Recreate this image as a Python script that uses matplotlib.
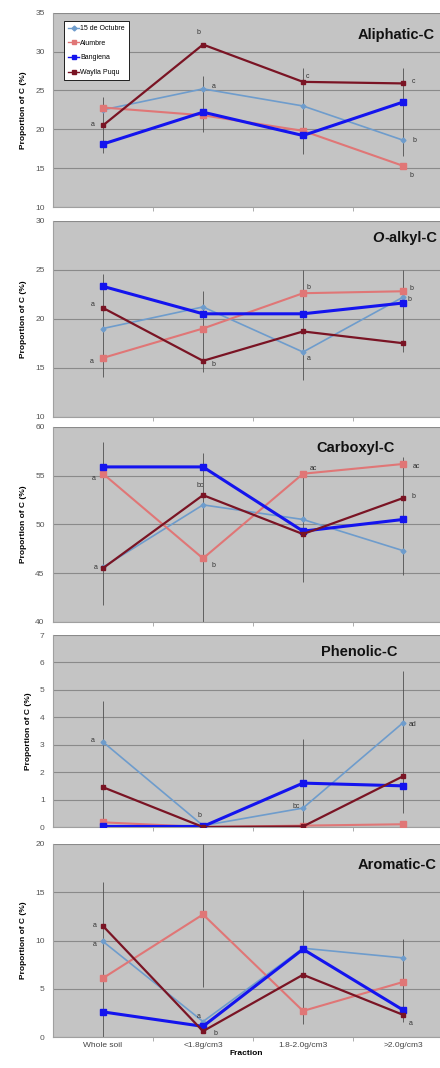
import matplotlib
matplotlib.use("Agg")
import matplotlib.pyplot as plt
import numpy as np

plt.rcParams['font.family'] = ['Liberation Sans', 'DejaVu Sans']

# categories and sites
fractions = ["Whole soil", "<1.8g/cm3", "1.8-2.0g/cm3", ">2.0g/cm3"]
sites = ["15 de Octubre", "Alumbre", "Bangiena", "Waylla Puqu"]

# values per panel, rows in the order of sites
aliphatic = [[22.5, 25.2, 23.0, 18.6],
             [22.8, 21.8, 19.8, 15.3],
             [18.1, 22.2, 19.2, 23.5],
             [20.5, 30.9, 26.1, 25.9]]
o_alkyl = [[19.0, 21.2, 16.6, 22.2],
           [16.0, 19.0, 22.6, 22.8],
           [23.3, 20.5, 20.5, 21.6],
           [21.1, 15.7, 18.7, 17.5]]
carboxyl = [[45.6, 52.0, 50.5, 47.3],
            [55.2, 46.5, 55.2, 56.2],
            [55.9, 55.9, 49.3, 50.5],
            [45.5, 53.0, 49.0, 52.7]]
phenolic = [[3.1, 0.05, 0.69, 3.8],
            [0.17, 0.0, 0.05, 0.1],
            [0.02, 0.02, 1.6, 1.5],
            [1.45, 0.0, 0.02, 1.85]]
aromatic = [[9.9, 1.6, 9.2, 8.2],
            [6.1, 12.7, 2.7, 5.7],
            [2.6, 1.1, 9.1, 2.8],
            [11.5, 0.6, 6.45, 2.3]]

# error bar extents (low, high) per fraction
aliphatic_err = [(17.0, 24.2), (19.6, 26.8), (16.8, 27.9), (16.5, 27.9)]
o_alkyl_err = [(14.1, 24.6), (14.6, 22.8), (13.7, 25.0), (16.6, 25.0)]
carboxyl_err = [(41.7, 58.5), (40.0, 57.3), (44.1, 54.9), (44.8, 56.9)]
phenolic_err = [(0.0, 4.6), (np.nan, np.nan), (0.0, 3.2), (0.5, 5.7)]
aromatic_err = [(0.0, 16.1), (5.2, 20.0), (1.3, 15.2), (1.6, 10.2)]

# significance letters (label, x, y)
aliphatic_letters = [("a", -0.1, 20.6), ("b", 0.95, 32.4), ("a", 1.11, 25.5),
                     ("c", 2.05, 26.8), ("c", 3.11, 26.2), ("b", 3.11, 18.5),
                     ("b", 3.08, 14.0)]
o_alkyl_letters = [("a", -0.1, 21.4), ("a", -0.11, 15.6), ("b", 1.1, 15.3),
                   ("b", 2.05, 23.2), ("a", 2.06, 15.9), ("b", 3.08, 23.1),
                   ("b", 3.06, 22.0)]
carboxyl_letters = [("a", -0.09, 54.7), ("a", -0.07, 45.6), ("bc", 0.97, 54.0),
                    ("b", 1.1, 45.8), ("ac", 2.1, 55.7), ("ac", 3.13, 55.9),
                    ("b", 3.1, 52.9)]
phenolic_letters = [("a", -0.1, 3.15), ("b", 0.96, 0.43), ("bc", 1.93, 0.76),
                    ("ad", 3.1, 3.75)]
aromatic_letters = [("a", -0.08, 11.6), ("a", -0.08, 9.6), ("a", 0.96, 2.1),
                    ("b", 1.12, 0.4), ("a", 3.08, 1.4)]

colors = ["#6e9ccc", "#e07676", "#1414ee", "#7a1424"]
widths = [1.2, 1.5, 2.2, 1.6]
markers = ["D", "s", "s", "s"]
msizes = [2.5, 4.5, 4, 3]

# title, values, errors, letters, y range, title position, italic prefix
panels = [("Aliphatic-C", aliphatic, aliphatic_err, aliphatic_letters, (10, 35, 5), (0.987, 0.887), ""),
          ("-alkyl-C", o_alkyl, o_alkyl_err, o_alkyl_letters, (10, 30, 5), (0.992, 0.91), "O"),
          ("Carboxyl-C", carboxyl, carboxyl_err, carboxyl_letters, (40, 60, 5), (0.884, 0.89), ""),
          ("Phenolic-C", phenolic, phenolic_err, phenolic_letters, (0, 7, 1), (0.889, 0.91), ""),
          ("Aromatic-C", aromatic, aromatic_err, aromatic_letters, (0, 20, 5), (0.992, 0.89), "")]

W, H = 440, 1068
fig = plt.figure(figsize=(W / 100, H / 100), dpi=100)
tops = [12.7, 220.7, 427, 635, 844]
bottoms = [207, 416.7, 621.7, 827, 1037]
left, right = 53, 440

x = np.arange(len(fractions))
for i, (title, vals, err, letters, yt, tpos, prefix) in enumerate(panels):
    ax = fig.add_axes([left / W, 1 - bottoms[i] / H, (right - left) / W, (bottoms[i] - tops[i]) / H])
    ax.set_facecolor("#c4c4c4")
    ax.set_xlim(-0.5, 3.37)
    ax.set_ylim(yt[0], yt[1])
    ax.set_yticks(np.arange(yt[0], yt[1] + 0.01, yt[2]))
    ax.yaxis.grid(True, color="#8a8a8a", lw=0.8)
    ax.set_axisbelow(True)
    for s in ["top", "right"]:
        ax.spines[s].set_visible(False)
    ax.spines["left"].set_color("#a0a0a0")
    ax.spines["bottom"].set_color("#a0a0a0")
    ax.tick_params(axis="y", labelsize=6, colors="#555555", length=0, pad=6)
    ax.set_xticks(x)
    ax.set_xticks([0.5, 1.5, 2.5], minor=True)
    ax.tick_params(axis="x", which="major", length=0)
    ax.tick_params(axis="x", which="minor", length=3, color="#a0a0a0")

    lows = [e[0] for e in err]
    highs = [e[1] for e in err]
    ax.vlines(x, lows, highs, color="#505050", lw=0.6, zorder=2)

    for j, site in enumerate(sites):
        ax.plot(x, vals[j], color=colors[j], lw=widths[j], marker=markers[j],
                ms=msizes[j], label=site, zorder=3 + j)

    for lab, lx, ly in letters:
        ax.text(lx, ly, lab, fontsize=5, color="#333333", ha="center", va="center", zorder=10)

    t = ax.text(tpos[0], tpos[1], title, transform=ax.transAxes, ha="right", va="center",
                fontsize=10.5, fontweight="bold", color="#111111")
    if prefix:
        ax.annotate(prefix, xy=(0, 0.5), xycoords=t, ha="right", va="center",
                    fontsize=10.5, fontweight="bold", fontstyle="italic", color="#111111")
    ax.set_ylabel("Proportion of C (%)", fontsize=6, fontweight="bold", labelpad=6)

    if i == 0:
        leg = ax.legend(loc="upper left", bbox_to_anchor=(0.02, 0.975), fontsize=5,
                        frameon=True, fancybox=False, edgecolor="black", framealpha=1,
                        handlelength=1.5, labelspacing=1.1, borderpad=0.6, handletextpad=0.2)
        leg.get_frame().set_linewidth(0.6)
        for line in leg.get_lines():
            line.set_markersize(2.5)
            line.set_linewidth(1)

    if i == len(panels) - 1:
        ax.set_xticklabels(fractions, fontsize=6, color="#444444")
        ax.set_xlabel("Fraction", fontsize=6, fontweight="bold", labelpad=1)
    else:
        ax.set_xticklabels([])

fig.savefig("out.png", dpi=100)
